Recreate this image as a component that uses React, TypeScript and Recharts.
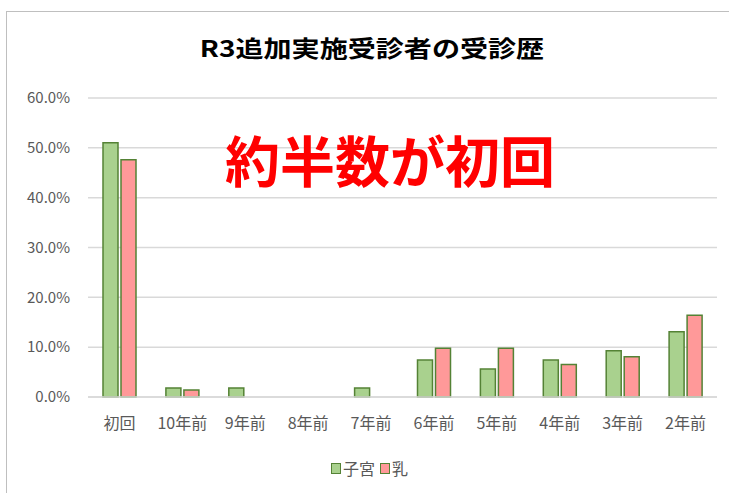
import { BarChart, Bar, XAxis, YAxis, CartesianGrid } from "recharts";

const categories = ["初回", "10年前", "9年前", "8年前", "7年前", "6年前", "5年前", "4年前", "3年前", "2年前"];
const uterus = [51.0, 1.8, 1.8, 0, 1.8, 7.4, 5.6, 7.4, 9.3, 13.1];
const breast = [47.6, 1.4, 0, 0, 0, 9.8, 9.8, 6.5, 8.1, 16.4];
const yTicks = [0, 10, 20, 30, 40, 50, 60];

const data = categories.map((name, i) => ({ name, uterus: uterus[i], breast: breast[i] }));

const FONT = "'Noto Sans CJK JP', 'Noto Sans', sans-serif";

export default function App() {
  return (
    <div style={{ position: "absolute", left: 0, top: 0, width: 729, height: 493, background: "#fff", overflow: "hidden" }}>
      <div
        style={{
          position: "absolute",
          left: 6,
          top: 11,
          width: 760,
          height: 520,
          border: "1.5px solid #bfbfbf",
          boxSizing: "border-box",
        }}
      />
      <div
        style={{
          position: "absolute",
          left: 0,
          top: 31,
          width: 744,
          textAlign: "center",
          fontFamily: FONT,
          fontWeight: 700,
          fontSize: 23,
          transform: "scaleX(1.22)",
          color: "#000",
          lineHeight: "32px",
        }}
      >
        R3追加実施受診者の受診歴
      </div>
      <div style={{ position: "absolute", left: 0, top: 0 }}>
        <BarChart
          width={729}
          height={493}
          data={data}
          margin={{ top: 98, right: 12, left: 0, bottom: 66 }}
          barGap={3}
          barCategoryGap={15}
        >
          <CartesianGrid vertical={false} stroke="#d9d9d9" strokeWidth={1.5} />
          <XAxis
            dataKey="name"
            height={30}
            tickLine={false}
            axisLine={{ stroke: "#d9d9d9", strokeWidth: 1.5 }}
            tick={{ fill: "#595959", fontSize: 16, fontFamily: FONT }}
            tickMargin={15}
            interval={0}
          />
          <YAxis
            width={88}
            domain={[0, 60]}
            ticks={yTicks}
            tickLine={false}
            axisLine={false}
            tick={{ fill: "#595959", fontSize: 15, fontFamily: FONT }}
            tickMargin={12}
            tickFormatter={(v) => `${Number(v).toFixed(1)}%`}
          />
          <Bar dataKey="uterus" name="子宮" fill="#a9d18e" stroke="#548235" strokeWidth={1.5} isAnimationActive={false} />
          <Bar dataKey="breast" name="乳" fill="#ff9999" stroke="#548235" strokeWidth={1.5} isAnimationActive={false} />
        </BarChart>
      </div>
      <div
        style={{
          position: "absolute",
          left: 0,
          top: 457,
          width: 729,
          display: "flex",
          justifyContent: "center",
          alignItems: "center",
          fontFamily: FONT,
          fontSize: 16,
          color: "#595959",
          lineHeight: "22px",
          paddingLeft: 10,
          boxSizing: "border-box",
        }}
      >
        <span style={{ width: 8, height: 9, background: "#a9d18e", border: "1px solid #548235", marginRight: 2 }} />
        <span style={{ marginRight: 5 }}>子宮</span>
        <span style={{ width: 8, height: 9, background: "#ff9999", border: "1px solid #548235", marginRight: 2 }} />
        <span>乳</span>
      </div>
      <div
        style={{
          position: "absolute",
          left: 200,
          top: 126,
          width: 380,
          textAlign: "center",
          fontFamily: FONT,
          fontWeight: 700,
          fontSize: 55,
          color: "#ff0000",
          lineHeight: "64px",
        }}
      >
        約半数が初回
      </div>
    </div>
  );
}
